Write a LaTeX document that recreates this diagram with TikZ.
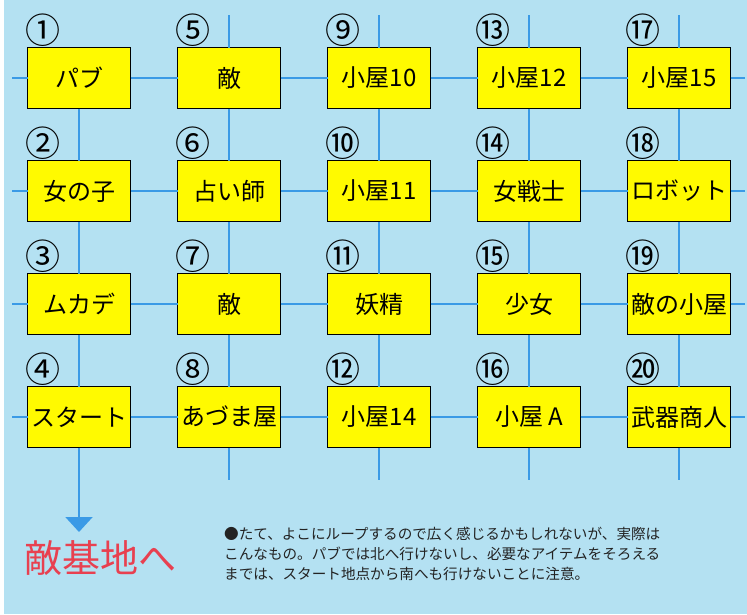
\documentclass[tikz,border=0pt]{standalone}
\usepackage{fontspec}
\setmainfont{Noto Sans CJK JP}
\usetikzlibrary{arrows.meta,positioning}
\definecolor{MapSky}{RGB}{180,225,242}
\definecolor{RoadBlue}{RGB}{58,154,230}
\definecolor{RoomYellow}{RGB}{255,250,0}
\definecolor{GoalRed}{RGB}{232,64,80}
\definecolor{NoteInk}{RGB}{35,35,35}
\tikzset{
  roombox/.style={draw=black,fill=RoomYellow,line width=1.4pt,minimum width=103pt,minimum height=61pt,inner sep=2pt,outer sep=0pt,font=\fontsize{24pt}{24pt}\selectfont},
  numlabel/.style={inner sep=0pt,font=\fontsize{35pt}{35pt}\selectfont},
  road/.style={draw=RoadBlue,line width=2pt},
  exitroad/.style={-{Triangle[width=27pt,length=15pt]},draw=RoadBlue,fill=RoadBlue,line width=2pt},
  goaltext/.style={text=GoalRed,inner sep=0pt,font=\fontsize{38pt}{38pt}\selectfont},
  notetext/.style={text=NoteInk,align=left,inner sep=0pt,font=\fontsize{14.6pt}{20pt}\selectfont}
}
\begin{document}
\begin{tikzpicture}[x=1pt,y=1pt,node distance=113pt and 150pt,on grid]
\fill[MapSky] (0,0) rectangle (747,-614);
\fill[white] (0,0) rectangle (4,-614);
\useasboundingbox (0,0) rectangle (747,-614);
% rooms, column by column
\node[roombox] (r1) at (79,-78) {パブ};
\node[roombox, below=of r1] (r2) {女の子};
\node[roombox, below=of r2] (r3) {ムカデ};
\node[roombox, below=of r3] (r4) {スタート};
\node[roombox, right=of r1] (r5) {敵};
\node[roombox, below=of r5] (r6) {占い師};
\node[roombox, below=of r6] (r7) {敵};
\node[roombox, below=of r7] (r8) {あづま屋};
\node[roombox, right=of r5] (r9) {小屋10};
\node[roombox, below=of r9] (r10) {小屋11};
\node[roombox, below=of r10] (r11) {妖精};
\node[roombox, below=of r11] (r12) {小屋14};
\node[roombox, right=of r9] (r13) {小屋12};
\node[roombox, below=of r13] (r14) {女戦士};
\node[roombox, below=of r14] (r15) {少女};
\node[roombox, below=of r15] (r16) {小屋 A};
\node[roombox, right=of r13] (r17) {小屋15};
\node[roombox, below=of r17] (r18) {ロボット};
\node[roombox, below=of r18] (r19) {敵の小屋};
\node[roombox, below=of r19] (r20) {武器商人};
% room numbers
\foreach \i/\c in {1/①,2/②,3/③,4/④,5/⑤,6/⑥,7/⑦,8/⑧,9/⑨,10/⑩,11/⑪,12/⑫,13/⑬,14/⑭,15/⑮,16/⑯,17/⑰,18/⑱,19/⑲,20/⑳}
  \node[numlabel] (n\i) at ([shift={(15,17)}]r\i.north west) {\c};
% roads between rooms
\foreach \a/\b in {1/5,5/9,9/13,13/17,2/6,6/10,10/14,14/18,3/7,7/11,11/15,15/19,4/8,8/12,12/16,16/20,
  1/2,2/3,3/4,5/6,6/7,7/8,9/10,10/11,11/12,13/14,14/15,15/16,17/18,18/19,19/20}
  \draw[road] (r\a) -- (r\b);
% loose ends at the edges
\foreach \w/\e in {1/17,2/18,3/19,4/20}{
  \coordinate[left=67pt of r\w] (west\w);
  \coordinate[right=66pt of r\e] (east\e);
  \draw[road] (west\w) -- (r\w);
  \draw[road] (r\e) -- (east\e);
}
\foreach \t/\b in {5/8,9/12,13/16,17/20}{
  \coordinate[above=63pt of r\t] (north\t);
  \coordinate[below=63pt of r\b] (south\b);
  \draw[road] (north\t) -- (r\t);
  \draw[road] (r\b) -- (south\b);
}
\coordinate[below=115pt of r4] (exit);
\draw[exitroad] (r4) -- (exit);
\node[goaltext] (goal) at (100,-558) {敵基地へ};
\node[notetext, anchor=north west] (note) at (224,-527) {●たて、よこにループするので広く感じるかもしれないが、実際は\\こんなもの。パブでは北へ行けないし、必要なアイテムをそろえる\\までは、スタート地点から南へも行けないことに注意。};
\end{tikzpicture}
\end{document}
